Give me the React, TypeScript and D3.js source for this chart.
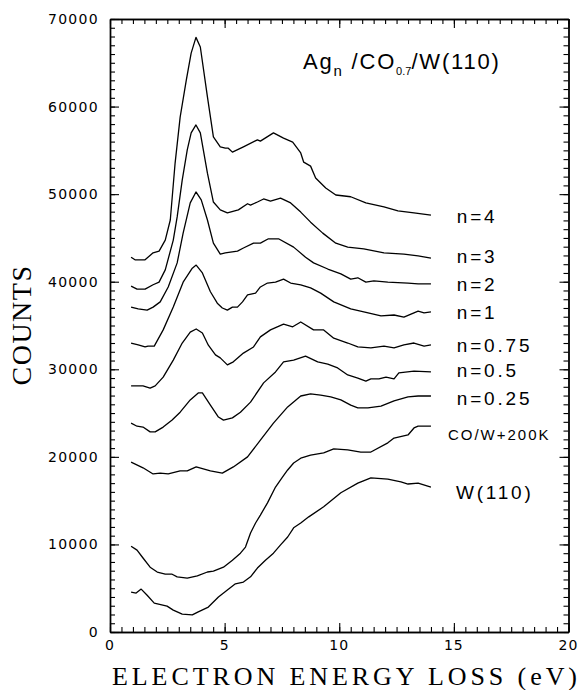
import React, { useEffect, useRef } from "react";
import * as d3 from "d3";

// ---- data (eV, counts) ----
const n4: [number, number][] = [[0.92,42800],[1.09,42500],[1.53,42500],[1.88,43300],[2.14,43500],[2.41,44750],[2.63,47050],[2.84,53550],[3.06,58800],[3.33,63050],[3.54,66100],[3.75,67900],[3.94,66800],[4.25,61100],[4.51,56550],[4.81,55400],[5.03,55250],[5.16,55250],[5.34,54800],[5.82,55400],[6.43,56200],[6.56,56050],[7.13,57000],[7.57,56400],[7.97,55950],[8.32,54700],[8.45,53650],[8.75,53200],[8.97,51850],[9.41,50700],[9.85,49900],[10.5,49700],[11.16,49000],[11.95,48550],[12.56,48100],[13.26,47850],[14.0,47600]];
const n3: [number, number][] = [[0.92,39500],[1.18,39150],[1.53,39150],[1.88,39650],[2.14,39950],[2.41,41350],[2.76,44750],[2.93,47400],[3.15,51600],[3.37,55050],[3.54,57000],[3.75,57900],[3.94,57000],[4.25,52400],[4.51,49100],[4.81,48200],[5.12,47850],[5.6,48200],[6.0,48900],[6.13,48750],[6.43,49100],[6.7,49450],[7.0,49200],[7.44,49550],[7.88,49000],[8.32,47950],[8.75,46800],[9.28,45550],[9.85,44400],[10.37,43950],[11.07,43750],[11.95,43300],[12.82,43150],[13.44,42950],[14.0,42700]];
const n2: [number, number][] = [[0.92,37100],[1.23,36900],[1.62,36750],[1.88,37100],[2.19,37700],[2.54,39400],[2.93,42150],[3.19,45550],[3.5,49000],[3.75,50250],[3.98,49350],[4.25,47050],[4.51,44400],[4.81,43150],[5.03,43300],[5.56,43500],[5.82,43850],[6.26,44400],[6.56,44400],[6.91,44900],[7.35,44900],[8.01,43950],[8.53,42800],[8.88,42150],[9.5,41450],[10.07,40900],[10.5,40300],[10.81,40450],[11.16,39950],[11.51,40100],[12.12,39950],[13.0,39850],[13.44,39750],[14.0,39750]];
const n1: [number, number][] = [[0.92,33000],[1.23,32800],[1.53,32550],[1.66,32650],[1.93,32650],[2.32,34500],[2.76,37100],[3.19,39950],[3.59,41550],[3.76,41900],[4.03,41000],[4.38,38850],[4.68,37550],[4.9,37000],[5.12,36750],[5.34,37100],[5.56,37100],[5.78,37700],[6.0,38500],[6.35,38700],[6.56,39400],[6.87,39850],[7.22,39950],[7.57,40300],[7.88,39850],[8.32,39650],[8.75,39300],[9.19,38700],[9.76,37700],[10.5,36900],[11.07,36550],[11.82,36100],[12.39,36200],[12.82,35950],[13.44,36650],[13.7,36450],[14.0,36550]];
const n075: [number, number][] = [[0.92,28100],[1.44,28100],[1.75,27850],[1.97,28100],[2.32,29100],[2.76,31050],[3.15,33000],[3.5,34250],[3.76,34600],[4.03,34150],[4.29,32750],[4.6,31650],[4.81,31300],[5.12,30500],[5.38,30850],[5.82,31850],[6.26,32550],[6.56,33700],[7.0,34500],[7.57,35150],[7.97,34850],[8.32,35400],[8.88,34500],[9.32,34500],[9.76,33550],[10.37,33000],[10.81,32550],[11.38,32450],[11.95,32650],[12.39,32450],[12.82,32800],[13.26,33000],[13.7,32650],[14.0,32800]];
const n05: [number, number][] = [[0.92,23850],[1.18,23500],[1.44,23400],[1.75,22850],[1.97,22850],[2.32,23400],[2.71,24200],[3.06,25100],[3.5,26500],[3.85,27300],[4.03,27300],[4.38,25900],[4.73,24550],[4.95,24200],[5.34,24450],[5.69,25100],[6.13,26250],[6.7,28450],[7.22,29700],[7.57,30850],[8.01,31050],[8.53,31500],[9.06,30850],[9.5,30600],[9.93,30150],[10.37,29350],[10.81,29000],[11.16,28650],[11.38,28900],[11.73,28900],[12.04,29100],[12.39,28900],[12.6,29600],[13.26,29800],[14.0,29700]];
const n025: [number, number][] = [[0.92,19400],[1.44,18750],[1.88,18050],[2.19,18150],[2.54,18050],[3.06,18400],[3.37,18400],[3.76,18850],[4.38,18400],[4.9,18150],[5.38,18850],[6.0,20000],[6.56,21900],[7.13,23850],[7.75,25700],[8.32,26950],[8.75,27200],[9.19,27050],[9.63,26850],[10.07,26500],[10.5,25900],[10.81,25600],[11.25,25600],[11.82,25800],[12.39,26400],[13.0,26850],[13.44,26950],[14.0,26950]];
const coW: [number, number][] = [[0.92,9800],[1.18,9350],[1.44,8450],[1.75,7400],[2.06,6850],[2.41,6600],[2.71,6600],[2.93,6300],[3.37,6150],[3.81,6400],[4.25,6850],[4.51,6950],[4.95,7400],[5.34,8200],[5.69,9000],[5.91,9700],[6.13,11300],[6.35,12450],[6.56,13350],[6.87,14750],[7.22,16550],[7.53,17700],[7.75,18500],[8.01,19300],[8.32,19850],[8.75,20200],[9.32,20450],[9.76,20900],[10.37,20800],[10.94,20550],[11.38,20550],[12.12,21600],[12.39,22150],[13.0,22500],[13.26,23300],[13.44,23500],[14.0,23500]];
const w110: [number, number][] = [[0.92,4550],[1.14,4450],[1.36,4900],[1.62,4200],[1.93,3300],[2.49,2950],[2.76,2500],[3.15,2050],[3.59,1950],[3.85,2300],[4.29,2850],[4.73,4000],[5.12,4800],[5.47,5500],[5.82,5700],[6.13,6300],[6.43,7300],[6.78,8200],[7.13,9000],[7.44,9950],[7.75,10850],[8.01,11900],[8.32,12450],[8.67,13150],[9.32,14300],[10.07,15900],[10.81,17000],[11.38,17600],[12.12,17450],[12.69,17150],[13.0,16900],[13.44,17000],[14.0,16550]];

const series = [n4, n3, n2, n1, n075, n05, n025, coW, w110];
const seriesLabels = ["n=4", "n=3", "n=2", "n=1", "n=0.75", "n=0.5", "n=0.25", "CO/W+200K", "W(110)"];
// label anchor in data units (eV, counts)
const labelAnchors: [number, number][] = [[15.13,46700],[15.13,42150],[15.13,38950],[15.13,35750],[15.13,31950],[15.13,29100],[15.13,25900],[14.74,21900],[15.09,15200]];

const xTicks = [0, 5, 10, 15, 20];
const yTicks = [0, 10000, 20000, 30000, 40000, 50000, 60000, 70000];

const W = 579, H = 690;
const L = 110, R = 568.5, T = 19, B = 632;

export default function App() {
  const x = d3.scaleLinear().domain([0, 20]).range([L, R]);
  const y = d3.scaleLinear().domain([0, 70000]).range([B, T]);
  const line = d3.line<[number, number]>().x(d => x(d[0])).y(d => y(d[1]));
  const axesRef = useRef<SVGGElement | null>(null);

  const sans = "'DejaVu Sans', 'Liberation Sans', sans-serif";
  const lab = "'Liberation Sans', Arial, sans-serif";

  useEffect(() => {
    if (!axesRef.current) return;
    const g = d3.select(axesRef.current);
    g.selectAll("*").remove();
    const xMinor = d3.range(0, 20.001, 0.5);
    const yMinor = d3.range(0, 70001, 1000);
    const fmt = () => "";
    const style = (sel: any) => {
      sel.select(".domain").attr("stroke", "black").attr("stroke-width", 1.4);
      sel.selectAll(".tick line").attr("stroke", "black").attr("stroke-width", 1.1);
      sel.selectAll(".tick text").remove();
    };
    // bottom
    g.append("g").attr("transform", `translate(0,${B})`)
      .call(d3.axisBottom(x).tickValues(xMinor).tickSizeInner(-5).tickSizeOuter(0).tickFormat(fmt)).call(style);
    g.append("g").attr("transform", `translate(0,${B})`)
      .call(d3.axisBottom(x).tickValues(xTicks).tickSizeInner(-9).tickSizeOuter(0).tickFormat(fmt)).call(style);
    // top
    g.append("g").attr("transform", `translate(0,${T})`)
      .call(d3.axisTop(x).tickValues(xMinor).tickSizeInner(-5).tickSizeOuter(0).tickFormat(fmt)).call(style);
    g.append("g").attr("transform", `translate(0,${T})`)
      .call(d3.axisTop(x).tickValues(xTicks).tickSizeInner(-9).tickSizeOuter(0).tickFormat(fmt)).call(style);
    // left
    g.append("g").attr("transform", `translate(${L},0)`)
      .call(d3.axisLeft(y).tickValues(yMinor).tickSizeInner(-5).tickSizeOuter(0).tickFormat(fmt)).call(style);
    g.append("g").attr("transform", `translate(${L},0)`)
      .call(d3.axisLeft(y).tickValues(yTicks).tickSizeInner(-9).tickSizeOuter(0).tickFormat(fmt)).call(style);
    // right
    g.append("g").attr("transform", `translate(${R},0)`)
      .call(d3.axisRight(y).tickValues(yMinor).tickSizeInner(-5).tickSizeOuter(0).tickFormat(fmt)).call(style);
    g.append("g").attr("transform", `translate(${R},0)`)
      .call(d3.axisRight(y).tickValues(yTicks).tickSizeInner(-9).tickSizeOuter(0).tickFormat(fmt)).call(style);
  }, []);

  return (
    <div style={{ position: "absolute", left: 0, top: 0 }}>
      <svg width={W} height={H} style={{ display: "block", background: "#fff" }}>
        <g ref={axesRef} />
        {series.map((s, i) => (
          <path key={"s" + i} d={line(s) || ""} fill="none" stroke="#000" strokeWidth={1.3} strokeLinejoin="round" />
        ))}
        {xTicks.map(v => (
          <text key={"xl" + v} x={x(v)} y={650} textAnchor="middle" fontFamily={sans} fontSize={14} letterSpacing={1}>{v}</text>
        ))}
        {yTicks.map(v => (
          <text key={"yl" + v} x={99} y={y(v) + 5} textAnchor="end" fontFamily={sans} fontSize={14} letterSpacing={1.3}>{v}</text>
        ))}
        {seriesLabels.map((t, i) => (
          <text key={"lb" + i} x={x(labelAnchors[i][0])} y={y(labelAnchors[i][1])} fontFamily={lab}
            fontSize={t === "CO/W+200K" ? 15 : 19} letterSpacing={t === "CO/W+200K" ? 2 : 2.8}>{t}</text>
        ))}
        <text x={303} y={69} fontFamily={lab} fontSize={22} letterSpacing={1.8}>
          Ag<tspan fontSize={15} dy={7}>n</tspan>
          <tspan dy={-7}> /CO</tspan>
          <tspan fontSize={11} dy={6} letterSpacing={0}>0.7</tspan>
          <tspan dy={-6}>/W(110)</tspan>
        </text>
        <text transform={`translate(31,325) rotate(-90)`} textAnchor="middle" fontFamily="'Liberation Serif', 'Times New Roman', serif" fontSize={28} letterSpacing={1.5}>COUNTS</text>
        <text x={112} y={685} textLength={465} lengthAdjust="spacing" fontFamily="'Liberation Serif', 'Times New Roman', serif" fontSize={26}>ELECTRON ENERGY LOSS (eV)</text>
      </svg>
    </div>
  );
}
